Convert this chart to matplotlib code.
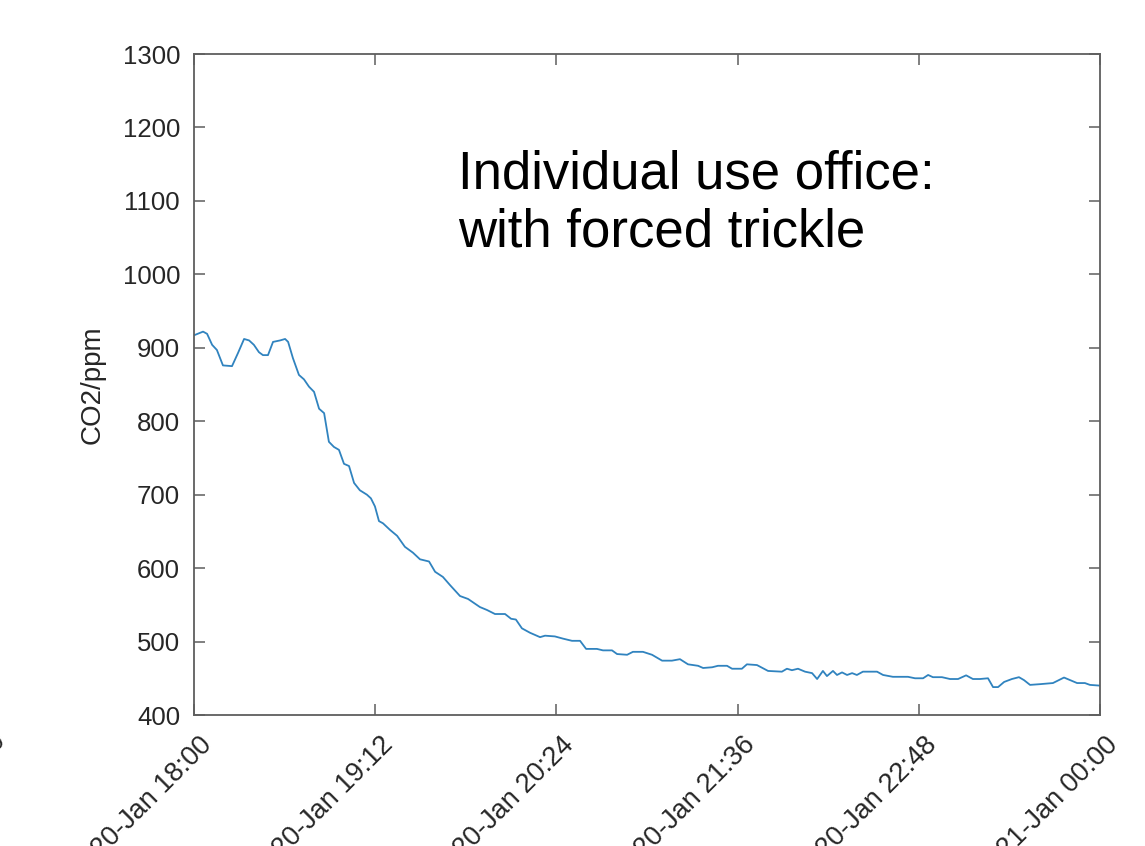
import datetime as dt
import matplotlib
matplotlib.use("Agg")
import matplotlib.pyplot as plt
import matplotlib.dates as mdates
from matplotlib.transforms import ScaledTranslation

# ---- data ----
minutes_after_1800 = [
    0, 3.6, 5.2, 7.2, 9.1, 11.5, 15.1, 17.5, 19.9, 21.9, 23.8, 25.8, 27.4, 29.4,
    31.4, 34.2, 36.2, 37.4, 39.3, 41.7, 43.7, 45.7, 47.7, 49.7, 51.7, 53.6, 55.6,
    57.6, 59.6, 61.6, 63.6, 65.9, 68.7, 70.3, 71.9, 73.5, 75.1, 77.9, 80.7, 83.8,
    87.0, 89.8, 93.4, 95.8, 98.9, 101.7, 105.7, 108.9, 113.6, 116.4, 119.6, 123.6,
    126.0, 127.9, 130.3, 133.5, 137.5, 139.5, 143.4, 146.6, 150.2, 153.4, 155.8,
    160.1, 162.5, 166.1, 168.1, 172.1, 174.4, 178.4, 182.0, 186.0, 189.9, 193.1,
    196.3, 200.3, 202.3, 205.9, 208.2, 211.8, 213.8, 217.7, 219.7, 223.7, 228.1,
    233.6, 235.6, 237.6, 240.0, 242.8, 245.6, 247.6, 249.9, 251.5, 253.9, 255.5,
    257.5, 259.5, 261.5, 263.4, 265.8, 271.4, 273.8, 277.7, 283.7, 286.5, 289.7,
    291.7, 293.6, 297.2, 300.4, 303.6, 306.8, 309.5, 312.3, 315.5, 317.5, 319.5,
    321.9, 325.0, 327.8, 329.8, 332.2, 336.2, 341.3, 345.7, 348.1, 350.9, 354.0,
    356.0, 360.0,
]
co2_ppm = [
    917, 922, 919, 904, 897, 876, 875, 893, 912, 910, 904, 894, 890, 890,
    908, 910, 912, 908, 886, 863, 857, 847, 840, 817, 811, 772, 765,
    761, 742, 739, 716, 706, 700, 695, 684, 664, 661, 652, 644, 629,
    621, 612, 609, 595, 588, 577, 562, 558, 547, 543, 537.5, 537.5,
    531, 530, 518, 512, 506, 508, 507, 504, 501, 501, 490,
    490, 488, 488, 483, 482, 486, 486, 482, 474, 474, 476,
    469, 467, 464, 465, 467, 467, 463, 463, 469, 468, 460,
    459, 463, 461, 463, 459, 457, 449, 460, 453, 460, 454.5,
    458, 454.5, 457, 454.5, 459, 459, 454.5, 452, 452, 450, 450,
    454.5, 451.5, 451.5, 449, 449, 454, 449, 449, 450, 438, 438,
    445, 449, 451.5, 447.5, 441, 442, 443.5, 451, 447.5, 443.5, 443.5,
    441, 440,
]
start_time = dt.datetime(2020, 1, 20, 18, 0)
end_time = dt.datetime(2020, 1, 21, 0, 0)
tick_step_minutes = 72
y_ticks = [400, 500, 600, 700, 800, 900, 1000, 1100, 1200, 1300]
y_label = "CO2/ppm"
note_lines = ["Individual use office:", "with forced trickle"]

times = [start_time + dt.timedelta(minutes=m) for m in minutes_after_1800]

# ---- figure ----
plt.rcParams["font.family"] = ["Liberation Sans", "DejaVu Sans"]
fig = plt.figure(figsize=(11.45, 8.46), dpi=100)
ax = fig.add_axes([194 / 1145, 1 - 715 / 846, 906 / 1145, 661 / 846])

ax.plot(times, co2_ppm, color="#3083bf", linewidth=1.3)

ax.set_xlim(start_time, end_time)
ax.set_ylim(400, 1300)
ax.set_yticks(y_ticks)
tick_times = [start_time + dt.timedelta(minutes=tick_step_minutes * i) for i in range(6)]
ax.set_xticks(tick_times)
ax.xaxis.set_major_formatter(mdates.DateFormatter("%d-%b %H:%M"))

frame_color = "#5e5e5e"
for s in ax.spines.values():
    s.set_color(frame_color)
    s.set_linewidth(1.3)

ax.tick_params(direction="in", length=8, width=1.1, color=frame_color,
               labelcolor="#262626", labelsize=18.5,
               top=True, right=True)
ax.tick_params(axis="y", pad=10)
ax.tick_params(axis="x", pad=12, labelsize=19.5)

for lab in ax.get_xticklabels():
    lab.set_rotation(45)
    lab.set_ha("right")
    lab.set_va("top")
    lab.set_transform(lab.get_transform() + ScaledTranslation(0.23, 0, fig.dpi_scale_trans))

ax.set_ylabel(y_label, fontsize=20, color="#262626", labelpad=12)

ax.text(0.2914, 0.7958, note_lines[0], transform=ax.transAxes, fontsize=38,
        color="black", va="baseline", ha="left")
ax.text(0.2914, 0.7095, note_lines[1], transform=ax.transAxes, fontsize=38,
        color="black", va="baseline", ha="left")

# cut-off label fragment at the far left edge of the picture
fig.text(10 / 1145, 1 - 728 / 846, "00", rotation=45, ha="right", va="top",
         fontsize=19.5, color="#262626")

fig.savefig("out.png", dpi=100, facecolor="white")
